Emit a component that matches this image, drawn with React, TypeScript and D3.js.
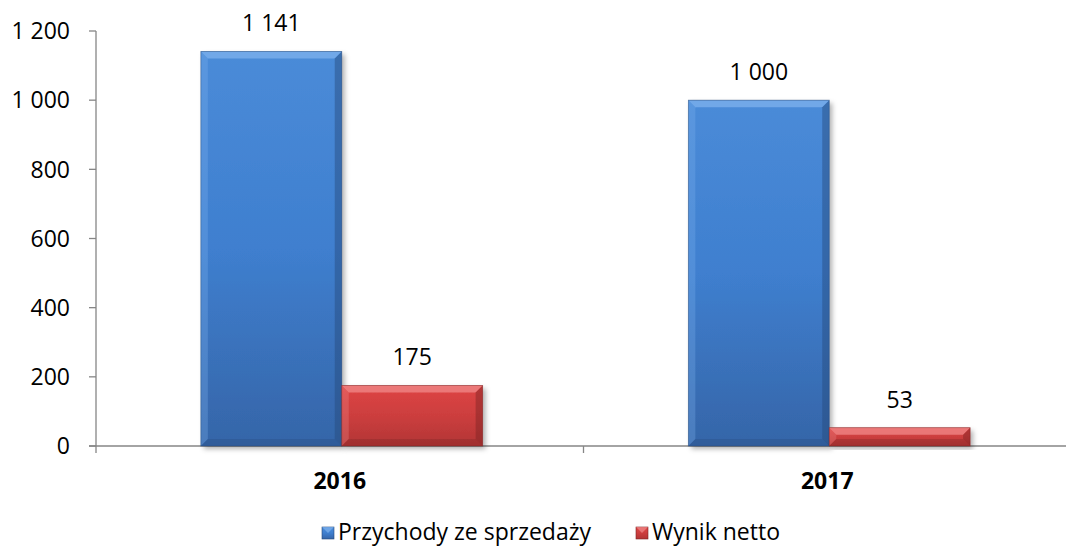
import { useRef, useEffect } from "react";
import * as d3 from "d3";

const years = ["2016", "2017"];
const seriesNames = ["Przychody ze sprzedaży", "Wynik netto"];
const przychody = [1141, 1000];
const wynik = [175, 53];
const yTicks = [0, 200, 400, 600, 800, 1000, 1200];

const W = 1066;
const H = 547;

export default function App() {
  const svgRef = useRef<SVGSVGElement>(null);

  useEffect(() => {
    if (!svgRef.current) return;
    const svg = d3.select(svgRef.current);
    svg.selectAll("*").remove();

    const font = "'Open Sans', sans-serif";
    const fs = 23;
    const pl = d3.formatLocale({ decimal: ",", thousands: "\u00a0", grouping: [3], currency: ["", ""] });
    const fmt = pl.format(",d");

    const left = 96;
    const right = 1071;
    const top = 31;
    const bottom = 446;

    const x0 = d3.scaleBand().domain(years).range([left, right]).padding(0);
    const x1 = d3
      .scaleBand()
      .domain(seriesNames)
      .range([2, x0.bandwidth() + 2])
      .paddingInner(0)
      .paddingOuter(0.73);
    const y = d3.scaleLinear().domain([0, 1200]).range([bottom, top]);

    const colors = [
      { top: "#4a8bd8", mid: "#3f7fcf", bot: "#3565a8", light: "#7fb2ee", dark: "#26497a" },
      { top: "#de4545", mid: "#cc3e3e", bot: "#b23535", light: "#f08a8a", dark: "#7c2424" },
    ];

    const defs = svg.append("defs");
    colors.forEach((c, i) => {
      const g = defs
        .append("linearGradient")
        .attr("id", `grad${i}`)
        .attr("x1", 0)
        .attr("y1", 0)
        .attr("x2", 0)
        .attr("y2", 1);
      g.append("stop").attr("offset", "0%").attr("stop-color", c.top);
      g.append("stop").attr("offset", "50%").attr("stop-color", c.mid);
      g.append("stop").attr("offset", "100%").attr("stop-color", c.bot);
    });
    const f = defs.append("filter").attr("id", "shadow").attr("x", "-10%").attr("y", "-10%").attr("width", "130%").attr("height", "130%");
    f.append("feDropShadow").attr("dx", 3).attr("dy", 3).attr("stdDeviation", 2.5).attr("flood-color", "#000").attr("flood-opacity", 0.3);

    // axes
    const axisColor = "#868686";
    svg
      .append("line")
      .attr("x1", left)
      .attr("x2", left)
      .attr("y1", top)
      .attr("y2", bottom)
      .attr("stroke", axisColor)
      .attr("stroke-width", 1.3);
    svg
      .append("line")
      .attr("x1", left - 7)
      .attr("x2", right)
      .attr("y1", bottom)
      .attr("y2", bottom)
      .attr("stroke", axisColor)
      .attr("stroke-width", 1.3);

    yTicks.forEach((t) => {
      svg
        .append("line")
        .attr("x1", left - 7)
        .attr("x2", left)
        .attr("y1", y(t))
        .attr("y2", y(t))
        .attr("stroke", axisColor)
        .attr("stroke-width", 1.3);
      svg
        .append("text")
        .attr("x", 70)
        .attr("y", y(t))
        .attr("dy", "0.36em")
        .attr("text-anchor", "end")
        .attr("font-family", font)
        .attr("font-size", fs)
        .attr("fill", "#000")
        .text(fmt(t));
    });

    // category ticks
    [...years.map((yr) => x0(yr)!), right].forEach((px) => {
      svg
        .append("line")
        .attr("x1", px)
        .attr("x2", px)
        .attr("y1", bottom)
        .attr("y2", bottom + 7)
        .attr("stroke", axisColor)
        .attr("stroke-width", 1.3);
    });

    years.forEach((yr) => {
      svg
        .append("text")
        .attr("x", x0(yr)! + x0.bandwidth() / 2)
        .attr("y", 489)
        .attr("text-anchor", "middle")
        .attr("font-family", font)
        .attr("font-size", fs)
        .attr("font-weight", "bold")
        .text(yr);
    });

    const data = [przychody, wynik];
    const bev = 7;
    data.forEach((vals, si) => {
      const c = colors[si];
      years.forEach((yr, yi) => {
        const bx = x0(yr)! + x1(seriesNames[si])!;
        const bw = x1.bandwidth();
        const by = y(vals[yi]);
        const bh = bottom - by;
        const b = Math.min(bev, bh / 2);
        const g = svg.append("g");
        g.append("rect")
          .attr("x", bx)
          .attr("y", by)
          .attr("width", bw)
          .attr("height", bh)
          .attr("fill", `url(#grad${si})`)
          .attr("filter", "url(#shadow)");
        // bevels
        g.append("polygon")
          .attr("points", `${bx},${by} ${bx + bw},${by} ${bx + bw - b},${by + b} ${bx + b},${by + b}`)
          .attr("fill", c.light)
          .attr("opacity", 0.75);
        g.append("polygon")
          .attr("points", `${bx},${by} ${bx + b},${by + b} ${bx + b},${by + bh - b} ${bx},${by + bh}`)
          .attr("fill", c.light)
          .attr("opacity", 0.3);
        g.append("polygon")
          .attr("points", `${bx + bw},${by} ${bx + bw},${by + bh} ${bx + bw - b},${by + bh - b} ${bx + bw - b},${by + b}`)
          .attr("fill", c.dark)
          .attr("opacity", 0.45);
        g.append("polygon")
          .attr("points", `${bx},${by + bh} ${bx + bw},${by + bh} ${bx + bw - b},${by + bh - b} ${bx + b},${by + bh - b}`)
          .attr("fill", c.dark)
          .attr("opacity", 0.3);
        g.append("rect")
          .attr("x", bx)
          .attr("y", by)
          .attr("width", bw)
          .attr("height", bh)
          .attr("fill", "none")
          .attr("stroke", c.dark)
          .attr("stroke-width", 0.8)
          .attr("opacity", 0.6);

        svg
          .append("text")
          .attr("x", bx + bw / 2)
          .attr("y", by - 20)
          .attr("text-anchor", "middle")
          .attr("font-family", font)
          .attr("font-size", fs)
          .text(fmt(vals[yi]));
      });
    });

    // legend
    const legendX = [322, 636];
    seriesNames.forEach((name, i) => {
      const c = colors[i];
      const lx = legendX[i];
      const ly = 527;
      svg
        .append("rect")
        .attr("x", lx)
        .attr("y", ly)
        .attr("width", 12)
        .attr("height", 12)
        .attr("fill", `url(#grad${i})`)
        .attr("stroke", c.dark)
        .attr("stroke-width", 0.6);
      svg
        .append("polygon")
        .attr("points", `${lx},${ly} ${lx + 12},${ly} ${lx + 6},${ly + 6}`)
        .attr("fill", c.light)
        .attr("opacity", 0.7);
      svg
        .append("text")
        .attr("x", lx + 16)
        .attr("y", 540)
        .attr("font-family", font)
        .attr("font-size", fs)
        .text(name);
    });
  }, []);

  return (
    <svg
      ref={svgRef}
      width={W}
      height={H}
      style={{ position: "absolute", left: 0, top: 0, background: "#fff" }}
    />
  );
}
